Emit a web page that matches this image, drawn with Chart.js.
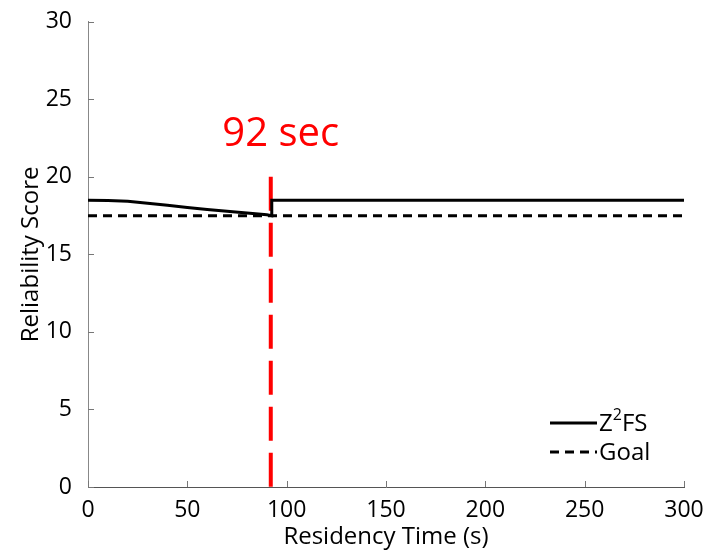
<!DOCTYPE html>
<html>
<head>
<meta charset="utf-8">
<script src="https://cdn.jsdelivr.net/npm/chart.js@4"></script>
<style>
  body { margin: 0; background: #fff; }
  #wrap { width: 709px; height: 552px; }
</style>
</head>
<body>
<div id="wrap"><canvas id="reliabilityChart"></canvas></div>
<script>
// Z2FS reliability score over residency time
var z2fsTimes  = [0, 10, 20, 30, 40, 50, 60, 70, 80, 90, 92.5, 92.5, 300];
var z2fsScores = [18.5, 18.48, 18.42, 18.3, 18.17, 18.03, 17.9, 17.78, 17.67, 17.56, 17.5, 18.5, 18.5];

// goal level
var goalTimes  = [0, 300];
var goalScores = [17.5, 17.5];

// vertical marker at 92 sec
var markerTimes  = [92, 92];
var markerScores = [20, 0];
var markerText = "92 sec";

var xTicks = [0, 50, 100, 150, 200, 250, 300];
var yTicks = [0, 5, 10, 15, 20, 25, 30];

var FONT = "'Open Sans', 'Noto Sans', sans-serif";

function toPoints(xs, ys) {
  var pts = [];
  for (var i = 0; i < xs.length; i++) pts.push({x: xs[i], y: ys[i]});
  return pts;
}

// draw a label, turning "²" into a raised small 2
function drawLabel(ctx, text, x, y, size) {
  var parts = text.split('\u00B2');
  ctx.font = size + 'px ' + FONT;
  ctx.fillText(parts[0], x, y);
  x += ctx.measureText(parts[0]).width;
  if (parts.length > 1) {
    ctx.font = Math.round(size * 0.65) + 'px ' + FONT;
    ctx.fillText('2', x, y - size * 0.35);
    x += ctx.measureText('2').width;
    ctx.font = size + 'px ' + FONT;
    ctx.fillText(parts[1], x, y);
  }
}

// inward ticks, the red label and the legend inside the plot
var extras = {
  id: 'extras',
  afterDatasetsDraw: function(chart) {
    var ctx = chart.ctx;
    var xs = chart.scales.x, ys = chart.scales.y;
    var area = chart.chartArea;

    ctx.save();
    ctx.strokeStyle = '#777';
    ctx.lineWidth = 1;
    xTicks.forEach(function(v) {
      var px = Math.round(xs.getPixelForValue(v)) + 0.5;
      ctx.beginPath(); ctx.moveTo(px, area.bottom); ctx.lineTo(px, area.bottom - 6); ctx.stroke();
    });
    yTicks.forEach(function(v) {
      var py = Math.round(ys.getPixelForValue(v)) + 0.5;
      ctx.beginPath(); ctx.moveTo(area.left, py); ctx.lineTo(area.left + 6, py); ctx.stroke();
    });

    // marker label
    ctx.fillStyle = '#ff0000';
    ctx.font = '40px ' + FONT;
    ctx.textAlign = 'center';
    ctx.textBaseline = 'alphabetic';
    ctx.fillText(markerText, xs.getPixelForValue(97), ys.getPixelForValue(22));

    // legend
    var entries = chart.data.datasets.filter(function(d) { return d.label; });
    var lx = area.right - 134, tx = area.right - 85;
    var ly = area.bottom - 64;
    ctx.textAlign = 'left';
    ctx.textBaseline = 'middle';
    entries.forEach(function(d, i) {
      var y = ly + i * 29;
      ctx.strokeStyle = d.borderColor;
      ctx.lineWidth = d.borderWidth;
      ctx.setLineDash(d.borderDash || []);
      ctx.beginPath(); ctx.moveTo(lx, y); ctx.lineTo(tx - 2, y); ctx.stroke();
      ctx.setLineDash([]);
      ctx.fillStyle = '#000';
      drawLabel(ctx, d.label, tx, y + 1, 24);
    });
    ctx.restore();
  }
};

var ctx = document.getElementById('reliabilityChart').getContext('2d');
var chart = new Chart(ctx, {
  type: 'line',
  data: {
    datasets: [{
      label: 'Z\u00B2FS',
      data: toPoints(z2fsTimes, z2fsScores),
      borderColor: '#000',
      borderWidth: 3,
      pointRadius: 0,
      tension: 0
    }, {
      label: 'Goal',
      data: toPoints(goalTimes, goalScores),
      borderColor: '#000',
      borderWidth: 3,
      borderDash: [9, 6],
      pointRadius: 0
    }, {
      data: toPoints(markerTimes, markerScores),
      borderColor: '#ff0000',
      borderWidth: 4,
      borderDash: [34, 12],
      pointRadius: 0
    }]
  },
  options: {
    responsive: true,
    maintainAspectRatio: false,
    animation: false,
    layout: { padding: { left: 0, right: 25, top: 19, bottom: 0 } },
    plugins: { legend: { display: false }, tooltip: { enabled: false } },
    scales: {
      x: {
        type: 'linear',
        min: 0, max: 300,
        afterFit: function(s) { s.height = 65; },
        afterBuildTicks: function(s) { s.ticks = xTicks.map(function(v) { return {value: v}; }); },
        grid: { display: false },
        border: { display: true, color: '#555', width: 1 },
        ticks: { color: '#000', padding: 2, maxRotation: 0, font: { family: FONT, size: 23 } },
        title: { display: true, text: 'Residency Time (s)', color: '#000', padding: { bottom: 0 }, font: { family: FONT, size: 24 } }
      },
      y: {
        min: 0, max: 30,
        afterFit: function(s) { s.width = 88; },
        afterBuildTicks: function(s) { s.ticks = yTicks.map(function(v) { return {value: v}; }); },
        grid: { display: false },
        border: { display: true, color: '#888', width: 1 },
        ticks: { color: '#000', padding: 8, font: { family: FONT, size: 23 } },
        title: { display: true, text: 'Reliability Score', color: '#000', padding: { top: 17 }, font: { family: FONT, size: 24 } }
      }
    }
  },
  plugins: [extras]
});
</script>
</body>
</html>
